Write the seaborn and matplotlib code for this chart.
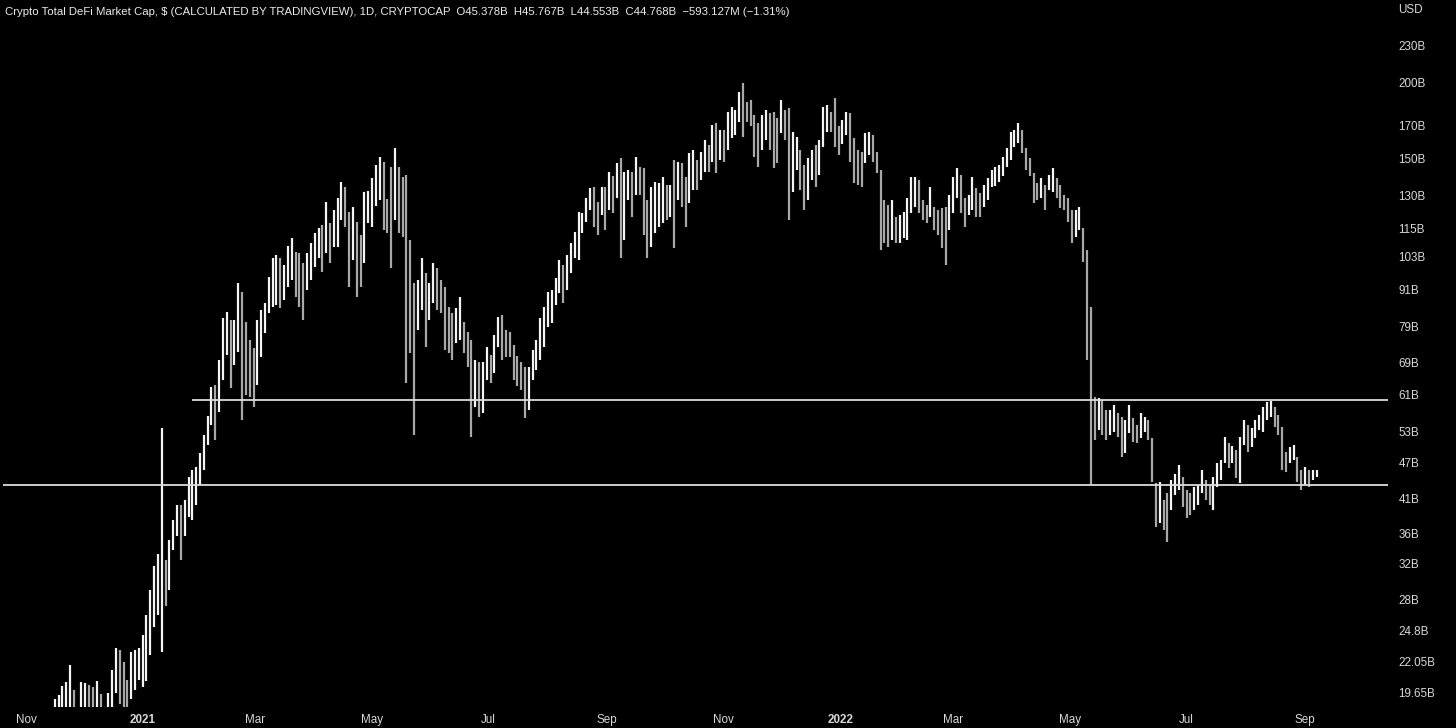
import numpy as np
import pandas as pd
import matplotlib
matplotlib.use("Agg")
import matplotlib.pyplot as plt
from matplotlib.ticker import NullLocator
import seaborn as sns

# ---------------- data (values in billions USD, one bar per 2 days) ----------------
start_date = "2020-11-16"
bar_step = "2D"

high = [
    19.1, 19.4, 20.1, 20.4, 21.8, 19.8, 18.3, 20.4, 20.3, 20.2,
    20.0, 20.5, 19.5, 18.5, 19.6, 21.4, 23.2, 23.1, 22.0, 20.6,
    22.9, 23.1, 23.2, 24.4, 26.3, 29.0, 31.7, 33.2, 53.8, 32.5,
    35.1, 37.8, 40.0, 40.0, 40.8, 44.6, 45.8, 46.3, 48.8, 52.3,
    56.2, 62.8, 63.2, 69.6, 81.6, 83.6, 81.0, 81.0, 93.2, 90.1,
    80.4, 75.1, 72.9, 81.0, 84.2, 86.4, 95.4, 102.6, 103.8, 102.6,
    99.9, 107.5, 110.8, 105.0, 104.6, 100.6, 104.6, 108.6, 112.8, 114.9,
    116.3, 127.0, 117.3, 123.2, 129.0, 137.0, 134.4, 122.3, 124.5, 117.7,
    112.0, 131.9, 132.4, 139.1, 146.2, 150.7, 147.9, 128.5, 145.1, 156.0,
    145.1, 139.6, 140.7, 109.9, 93.2, 94.3, 102.6, 96.9, 93.2, 100.6,
    98.7, 94.3, 91.8, 85.1, 83.2, 84.8, 88.4, 80.4, 77.4, 75.1,
    69.6, 69.1, 69.1, 73.1, 70.9, 76.5, 81.9, 82.6, 78.0, 77.4,
    73.7, 70.7, 69.1, 67.8, 67.8, 72.3, 75.1, 81.6, 85.1, 90.1,
    90.8, 95.0, 101.8, 99.9, 103.8, 108.6, 113.3, 122.3, 121.8, 129.0,
    133.9, 134.4, 127.0, 134.4, 134.4, 142.3, 140.1, 147.3, 150.2, 142.3,
    143.4, 142.3, 150.7, 145.1, 144.5, 128.0, 134.4, 137.0, 136.5, 139.6,
    135.4, 135.4, 149.0, 147.9, 147.3, 139.6, 153.0, 154.8, 149.0, 153.6,
    160.8, 157.8, 170.2, 171.5, 167.0, 167.0, 178.9, 182.3, 180.3, 192.9,
    199.8, 185.8, 187.2, 176.8, 171.5, 176.8, 180.3, 178.2, 178.9, 174.8,
    187.2, 180.3, 181.6, 165.8, 162.6, 154.8, 146.2, 150.2, 154.8, 157.8,
    160.8, 182.3, 183.7, 178.9, 188.6, 169.6, 173.5, 178.9, 178.2, 162.0,
    154.8, 153.6, 165.1, 165.8, 163.8, 153.6, 143.4, 128.0, 125.6, 128.0,
    120.0, 120.9, 122.3, 129.0, 139.6, 139.6, 138.1, 128.0, 125.6, 134.4,
    124.5, 123.2, 124.0, 124.5, 130.5, 139.6, 144.5, 140.7, 129.0, 130.5,
    139.6, 133.9, 131.4, 135.4, 139.1, 143.4, 145.1, 146.2, 150.7, 156.0,
    165.8, 167.0, 171.5, 167.0, 156.0, 150.2, 141.8, 136.5, 139.1, 135.4,
    140.7, 144.5, 139.1, 135.4, 130.5, 129.0, 123.2, 123.2, 124.5, 114.9,
    105.8, 85.1, 60.4, 60.2, 59.7, 57.5, 57.5, 58.6, 56.9, 56.0,
    55.4, 58.6, 55.8, 54.3, 56.9, 56.0, 55.4, 51.7, 43.6, 43.8,
    40.8, 41.9, 44.1, 45.0, 46.7, 44.6, 42.4, 41.9, 42.9, 43.2,
    45.8, 44.1, 43.2, 44.6, 47.0, 47.5, 51.9, 50.7, 50.1, 49.4,
    51.9, 55.4, 54.3, 53.7, 55.4, 56.4, 58.2, 59.3, 59.5, 58.2,
    56.4, 53.9, 49.0, 49.9, 50.3, 48.1, 45.8, 46.3, 45.8, 45.8,
    45.8,
]

low = [
    18.3, 18.3, 18.3, 18.2, 18.4, 18.1, 17.7, 18.3, 18.4, 18.3,
    18.4, 18.3, 18.3, 17.8, 18.3, 18.4, 19.6, 18.8, 18.4, 18.3,
    19.1, 19.8, 20.6, 20.0, 20.5, 22.6, 25.2, 26.3, 22.9, 27.3,
    29.0, 33.7, 35.6, 32.5, 35.6, 38.2, 37.8, 40.0, 43.2, 45.8,
    50.3, 54.3, 51.3, 57.1, 64.5, 71.0, 62.6, 68.3, 71.8, 55.4,
    60.9, 60.4, 58.2, 63.3, 70.4, 77.1, 83.2, 85.1, 85.8, 84.8,
    87.4, 92.0, 94.3, 88.4, 85.1, 81.0, 90.8, 94.3, 99.1, 102.6,
    97.3, 104.6, 100.6, 107.0, 107.0, 118.6, 115.4, 92.0, 101.8, 88.4,
    92.0, 100.6, 117.0, 115.4, 125.1, 128.0, 114.1, 112.8, 98.6, 118.6,
    112.8, 111.3, 63.8, 71.5, 52.3, 78.0, 84.2, 73.1, 81.0, 86.4,
    84.2, 83.2, 72.3, 71.5, 69.6, 74.3, 75.1, 71.5, 67.8, 51.9,
    58.2, 56.0, 56.8, 64.5, 63.8, 66.2, 73.1, 69.6, 70.4, 70.4,
    64.5, 63.1, 62.1, 55.8, 57.5, 64.5, 67.0, 69.6, 73.1, 78.9,
    80.0, 85.8, 89.8, 86.4, 90.8, 96.9, 102.6, 101.8, 112.8, 117.7,
    123.2, 115.4, 112.0, 120.9, 114.1, 123.2, 121.8, 129.0, 102.6, 109.9,
    128.0, 120.0, 130.5, 130.5, 112.0, 102.6, 107.0, 112.8, 115.4, 117.0,
    118.6, 120.0, 106.6, 128.0, 124.5, 115.4, 126.5, 132.9, 132.9, 138.1,
    142.3, 142.3, 147.9, 141.8, 149.0, 147.9, 154.8, 162.0, 163.8, 172.2,
    162.6, 172.2, 169.6, 150.8, 145.1, 154.8, 160.8, 154.8, 144.5, 147.3,
    165.1, 160.8, 118.6, 131.9, 143.4, 132.9, 123.2, 128.0, 138.1, 134.4,
    140.7, 156.6, 165.8, 165.8, 156.6, 151.9, 158.4, 163.8, 147.9, 136.5,
    135.4, 134.4, 147.3, 151.9, 147.9, 141.8, 105.8, 108.8, 107.0, 109.9,
    108.8, 108.8, 110.8, 109.9, 121.8, 124.5, 121.8, 118.6, 117.3, 120.0,
    114.1, 112.0, 106.6, 99.9, 114.1, 121.8, 129.0, 121.8, 115.4, 120.9,
    123.2, 120.0, 120.0, 124.5, 128.0, 134.4, 134.9, 137.0, 140.1, 145.1,
    149.0, 156.6, 158.8, 153.0, 143.4, 140.1, 126.5, 128.0, 129.0, 123.2,
    132.9, 131.9, 129.0, 124.0, 123.2, 117.7, 108.8, 111.3, 114.1, 101.0,
    69.6, 43.2, 51.3, 53.3, 52.3, 51.3, 52.3, 52.9, 51.9, 48.1,
    48.8, 52.7, 50.9, 50.7, 51.7, 52.9, 51.3, 43.8, 36.8, 37.4,
    36.4, 34.8, 39.3, 41.6, 42.4, 39.7, 38.1, 38.5, 39.3, 40.0,
    41.9, 40.8, 40.0, 39.3, 42.9, 44.1, 47.0, 46.1, 47.0, 44.4,
    43.6, 50.3, 49.0, 50.0, 51.7, 53.3, 52.9, 55.4, 56.0, 53.9,
    52.3, 45.8, 45.5, 47.0, 47.5, 43.8, 42.4, 43.2, 42.9, 44.1,
    44.6,
]

# drawn horizontal levels (value, start date)
level_values = [59.7, 43.2]
level_starts = ["2021-01-27", "2020-10-20"]

y_ticks = [230, 200, 170, 150, 130, 115, 103, 91, 79, 69, 61, 53, 47, 41,
           36, 32, 28, 24.8, 22.05, 19.65]
y_labels = ["230B", "200B", "170B", "150B", "130B", "115B", "103B", "91B",
            "79B", "69B", "61B", "53B", "47B", "41B", "36B", "32B", "28B",
            "24.8B", "22.05B", "19.65B"]

x_tick_dates = ["2020-11-01", "2021-01-01", "2021-03-01", "2021-05-01",
                "2021-07-01", "2021-09-01", "2021-11-01", "2022-01-01",
                "2022-03-01", "2022-05-01", "2022-07-01", "2022-09-01"]
x_tick_labels = ["Nov", "2021", "Mar", "May", "Jul", "Sep", "Nov", "2022",
                 "Mar", "May", "Jul", "Sep"]

title_text = ("Crypto Total DeFi Market Cap, $ (CALCULATED BY TRADINGVIEW), 1D, CRYPTOCAP  "
              "O45.378B  H45.767B  L44.553B  C44.768B  \u2212593.127M (\u22121.31%)")

# ---------------- styling ----------------
sns.set_theme(style="dark", rc={"axes.facecolor": "black",
                                "figure.facecolor": "black",
                                "axes.grid": False})
plt.rcParams["font.family"] = ["Liberation Sans", "DejaVu Sans"]

TEXT = "#d8d8d8"
UP = "#f4f4f4"
DOWN = "#a8a8a8"

df = pd.DataFrame({
    "date": pd.date_range(start_date, periods=len(high), freq=bar_step),
    "high": high,
    "low": low,
})
df["mid"] = np.sqrt(df["high"] * df["low"])
df["up"] = df["mid"].diff().fillna(0) >= 0

W, H = 1456, 728
fig = plt.figure(figsize=(W / 100, H / 100), dpi=100)
ax = fig.add_axes([0, 21 / H, 1390 / W, 707 / H])
ax.set_facecolor("black")

ax.set_yscale("log")
ax.set_ylim(18.56, 274.0)
ref = pd.Timestamp("2020-11-01")
x_left = ref - pd.Timedelta(days=13.6)
x_right = ref + pd.Timedelta(days=713.4)
ax.set_xlim(x_left, x_right)

for is_up, color in [(True, UP), (False, DOWN)]:
    sub = df[df["up"] == is_up]
    ax.vlines(sub["date"], sub["low"], sub["high"], color=color, linewidth=1.6)

for val, st in zip(level_values, level_starts):
    ax.hlines(val, pd.Timestamp(st), x_right - pd.Timedelta(days=1),
              color="#dcdcdc", linewidth=1.3)

for s in ax.spines.values():
    s.set_visible(False)

ax.yaxis.tick_right()
ax.set_yticks(y_ticks)
ax.set_yticklabels(y_labels)
ax.yaxis.set_minor_locator(NullLocator())
ax.tick_params(axis="y", length=0, pad=6, labelsize=8.4, labelcolor=TEXT)
for lbl in ax.get_yticklabels():
    lbl.set_horizontalalignment("left")

ax.set_xticks(pd.to_datetime(x_tick_dates))
ax.set_xticklabels(x_tick_labels)
ax.xaxis.set_minor_locator(NullLocator())
ax.tick_params(axis="x", length=0, pad=5, labelsize=8.4, labelcolor=TEXT)
for lbl in ax.get_xticklabels():
    if lbl.get_text().isdigit():
        lbl.set_fontweight("bold")
ax.set_xlabel("")
ax.set_ylabel("")
ax.grid(False)

fig.text(5 / W, 1 - 12 / H, title_text, color="#ececec", fontsize=8.2,
         ha="left", va="center")
fig.text(1398 / W, 1 - 10 / H, "USD", color=TEXT, fontsize=8.4,
         ha="left", va="center")

fig.savefig("out.png", dpi=100, facecolor="black")
